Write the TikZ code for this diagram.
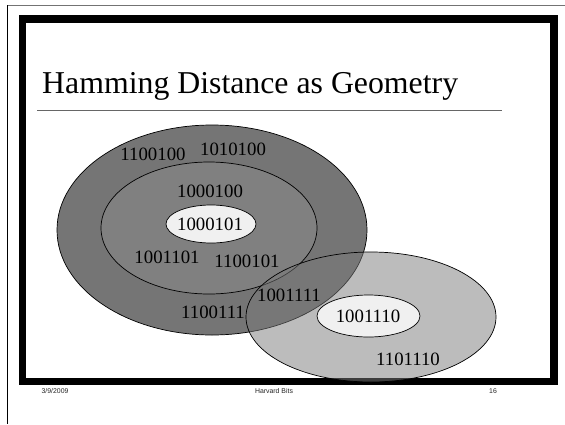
\documentclass[tikz,border=0pt]{standalone}
\usepackage{fontspec}
\setmainfont{Liberation Serif}
\setsansfont{Liberation Sans}
\begin{document}
\begin{tikzpicture}[x=1pt,y=-1pt,
  bits/.style={font=\fontsize{18.8}{20}\selectfont, inner sep=0pt},
  foot/.style={font=\sffamily\fontsize{6.9}{8}\selectfont, text=black!85, inner sep=0pt},
  ring/.style={draw=black, line width=0.7pt}]
\useasboundingbox (0,0) rectangle (565,424);
\fill[white] (0,0) rectangle (565,424);
% slide edges
\draw[black!55, line width=0.9pt] (7.5,5) -- (565,5);
\draw[black, line width=0.8pt] (7.5,5) -- (7.5,424);
% thick frame
\draw[black, line width=7.5pt] (22.5,19) rectangle (554,381.5);
% title
\node[anchor=base west, inner sep=0pt, font=\fontsize{31.8}{36}\selectfont] (title) at (42,93) {Hamming Distance as Geometry};
\draw[black!60, line width=0.8pt] (37,110) -- (502,110);
% dark group
\draw[ring, fill=black!54] (212,230) ellipse [x radius=155, y radius=105];
\draw[ring, fill=black!50] (209,228) ellipse [x radius=108, y radius=66];
\draw[ring, fill=black!6] (211,224) ellipse [x radius=45, y radius=19];
% light group (translucent)
\draw[ring, fill=black!52, fill opacity=0.5] (371,317) ellipse [x radius=125, y radius=65];
\draw[ring, fill=black!6] (368.5,316) ellipse [x radius=51.5, y radius=21];
% labels
\node[bits] (a1) at (153,154) {1100100};
\node[bits] (a2) at (233,149) {1010100};
\node[bits] (a3) at (210,191) {1000100};
\node[bits] (a4) at (210,224) {1000101};
\node[bits] (a5) at (167,257) {1001101};
\node[bits] (a6) at (247,261) {1100101};
\node[bits] (a7) at (289,295) {1001111};
\node[bits] (a8) at (213,312) {1100111};
\node[bits] (a9) at (368,316) {1001110};
\node[bits] (a10) at (408,359) {1101110};
% footer
\node[foot] (f1) at (55,391) {3/9/2009};
\node[foot] (f2) at (274,391) {Harvard Bits};
\node[foot] (f3) at (493,391) {16};
\end{tikzpicture}
\end{document}
